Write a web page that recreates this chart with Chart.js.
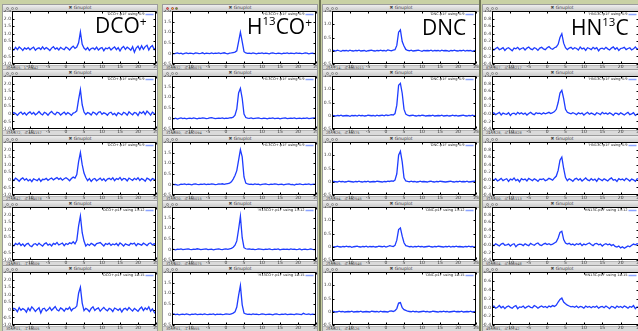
<!DOCTYPE html>
<html>
<head>
<meta charset="utf-8">
<script src="https://cdn.jsdelivr.net/npm/chart.js@4.4.1/dist/chart.umd.min.js"></script>
<style>
html, body { margin: 0; padding: 0; }
body { width: 638px; height: 331px; overflow: hidden; position: relative; background: #c9d1a5; font-family: "DejaVu Sans", sans-serif; }
.win { position: absolute; background: #fff; border: 1px solid #9c9c9c; box-sizing: border-box; overflow: hidden; }
.bar { position: absolute; left: 0; right: 0; top: 0; height: 6px; background: linear-gradient(#eeeeee, #cbcbcb); border-bottom: 1px solid #a6a6a6; font-size: 4.5px; line-height: 6px; text-align: center; color: #444; }
.dot { position: absolute; top: 1.5px; width: 3px; height: 3px; border-radius: 50%; background: #d6d6d6; border: 0.5px solid #8a8a8a; box-sizing: border-box; }
.status { position: absolute; left: 0; right: 0; bottom: 0; height: 4px; background: #dadada; border-top: 1px solid #b8b8b8; font-size: 3.5px; line-height: 4px; color: #444; padding-left: 3px; white-space: pre; }
.strip { position: absolute; top: 0; width: 2px; height: 331px; background: #6f7556; }
canvas { position: absolute; }
.lbl { position: absolute; font-family: "Open Sans", sans-serif; font-size: 21px; line-height: 21px; color: #000; white-space: nowrap; z-index: 5; }
.lbl .sp { font-size: 12px; position: relative; top: -7px; }
.lbl .iso { font-size: 11.5px; position: relative; top: -9px; }
</style>
</head>
<body>
<script>
// velocity axis (km/s), shared by every spectrum
const velocity = [
  -15, -14.5, -14, -13.5, -13, -12.5, -12, -11.5, -11,  -10.5, -10, -9.5, -9, -8.5, -8, -7.5, -7, -6.5,  -6, -5.5, -5, -4.5, -4, -3.5, -3, -2.5, -2,
  -1.5, -1, -0.5, 0, 0.5, 1, 1.5, 2, 2.5,  3, 3.5, 4, 4.5, 5, 5.5, 6, 6.5, 7,  7.5, 8, 8.5, 9, 9.5, 10, 10.5, 11, 11.5,
  12, 12.5, 13, 13.5, 14, 14.5, 15, 15.5, 16,  16.5, 17, 17.5, 18, 18.5, 19, 19.5, 20, 20.5,  21, 21.5, 22, 22.5, 23, 23.5, 24, 24.5, 25
];

// DCO+
const dco1 = [
  0.02, -0.08, 0.10, -0.05, 0.12, 0.03, -0.10, 0.06, -0.02,  0.08, -0.06, 0.04, 0.11, -0.09, 0.02, 0.07, -0.04, 0.13,  -0.03, 0.09, 0.00, -0.11, 0.05, 0.14, -0.02, 0.06, -0.07,
  0.10, 0.01, -0.05, 0.12, 0.04, -0.08, 0.07, 0.18, 0.03,  0.12, 0.40, 1.12, 0.30, 0.05, -0.06, 0.08, -0.10, 0.02,  0.06, -0.04, 0.11, -0.08, 0.03, 0.09, -0.12, 0.05, 0.00,
  0.10, -0.07, 0.04, 0.13, -0.05, 0.08, -0.14, 0.06, 0.16,  -0.04, 0.11, 0.02, -0.09, 0.14, -0.22, 0.05, 0.18, -0.06,  0.20, -0.03, 0.15, 0.24, -0.08, 0.12, 0.22, -0.05, 0.10
];
const dco2 = [
  -0.05, 0.08, 0.02, -0.10, 0.04, 0.12, -0.03, 0.07, -0.08,  0.05, 0.13, -0.02, 0.09, -0.06, 0.03, 0.15, 0.01, -0.07,  0.10, 0.04, -0.09, 0.06, 0.16, 0.02, -0.05, 0.11, 0.07,
  -0.08, 0.03, 0.12, -0.04, 0.08, 0.01, -0.10, 0.05, 0.09,  0.20, 0.95, 1.60, 0.60, 0.12, -0.04, 0.09, 0.03, -0.08,  0.12, 0.05, -0.06, 0.10, 0.14, -0.03, 0.07, 0.02, -0.09,
  0.06, 0.11, -0.05, 0.03, -0.12, 0.08, 0.01, -0.07, 0.10,  0.04, -0.09, 0.13, 0.02, -0.06, 0.09, 0.05, -0.11, 0.12,  0.03, 0.15, -0.04, 0.18, 0.06, -0.08, 0.11, 0.02, -0.05
];
const dco3 = [
  0.06, -0.04, 0.11, 0.02, -0.09, 0.05, 0.13, -0.02, 0.08,  -0.07, 0.03, -0.12, 0.07, 0.01, -0.05, 0.09, -0.10, 0.04,  0.02, 0.10, -0.03, 0.06, 0.12, 0.00, 0.08, 0.15, 0.03,
  0.11, -0.02, 0.07, 0.14, 0.05, -0.06, 0.09, 0.18, 0.12,  0.35, 1.20, 1.80, 1.00, 0.45, 0.15, -0.05, 0.08, -0.10,  0.04, 0.09, -0.06, 0.02, 0.11, -0.03, 0.07, -0.08, 0.05,
  0.10, 0.01, 0.13, -0.05, 0.08, 0.03, 0.16, -0.02, 0.09,  0.06, -0.07, 0.12, 0.04, -0.03, 0.10, 0.01, 0.14, -0.04,  0.08, 0.02, -0.09, 0.11, 0.05, -0.06, 0.09, 0.03, -0.02
];
const dco4 = [
  0.03, -0.07, 0.09, 0.01, 0.12, -0.04, 0.06, -0.09, 0.05,  0.10, -0.06, -0.12, 0.04, 0.08, -0.03, 0.11, 0.00, -0.08,  0.07, 0.13, -0.02, 0.05, -0.07, 0.10, 0.03, 0.16, -0.01,
  0.06, 0.12, -0.05, 0.09, 0.02, 0.14, 0.08, 0.20, 0.06,  0.30, 1.25, 1.90, 0.80, 0.25, -0.08, 0.05, -0.04, 0.10,  0.03, -0.06, 0.08, 0.12, 0.15, 0.04, -0.07, 0.09, 0.02,
  0.11, -0.03, 0.06, 0.00, 0.09, -0.05, 0.13, 0.04, -0.08,  0.07, 0.01, -0.04, 0.10, 0.05, 0.12, -0.06, 0.08, 0.03,  -0.02, 0.11, 0.04, -0.05, 0.09, 0.13, 0.00, 0.07, 0.05
];
const dco5 = [
  -0.06, 0.10, 0.04, -0.12, 0.15, -0.03, 0.08, 0.01, -0.15,  0.12, -0.05, 0.20, 0.07, -0.10, 0.03, 0.14, -0.20, 0.06,  0.11, -0.08, 0.02, 0.16, -0.04, 0.09, 0.22, 0.01, -0.07,
  0.13, 0.05, -0.09, 0.10, 0.03, 0.18, -0.06, 0.08, 0.12,  0.25, 1.10, 1.50, 0.45, -0.05, 0.10, 0.02, -0.12, 0.09,  0.20, -0.04, 0.07, 0.13, -0.09, 0.05, 0.16, 0.02, -0.06,
  0.10, 0.04, -0.11, 0.12, 0.06, -0.03, 0.08, -0.14, 0.05,  0.11, -0.02, 0.15, 0.03, -0.08, 0.09, 0.01, -0.10, 0.07,  0.18, -0.05, 0.12, 0.02, 0.20, -0.09, 0.06, -0.15, -0.30
];

// H13CO+
const h13co1 = [
  0.01, -0.02, 0.00, 0.02, -0.01, 0.01, -0.03, 0.00, 0.02,  -0.01, 0.01, 0.00, -0.02, 0.02, 0.01, -0.01, 0.00, 0.03,  -0.02, 0.01, 0.00, -0.01, 0.02, -0.01, 0.01, 0.00, 0.02,
  -0.01, 0.01, 0.03, 0.00, -0.02, 0.01, 0.02, 0.04, 0.06,  0.12, 0.55, 1.00, 0.55, 0.08, 0.02, 0.00, 0.01, -0.01,  0.02, 0.00, -0.02, 0.01, 0.00, 0.02, -0.01, 0.01, 0.00,
  -0.02, 0.01, 0.02, 0.00, -0.01, 0.01, 0.00, -0.02, 0.01,  0.00, 0.02, -0.01, 0.01, 0.00, -0.01, 0.02, 0.00, 0.01,  -0.01, 0.00, 0.02, 0.01, -0.02, 0.00, 0.01, -0.01, 0.00
];
const h13co2 = [
  0.00, -0.02, 0.01, -0.03, 0.00, 0.02, -0.01, 0.01, -0.02,  0.00, 0.01, -0.01, 0.02, 0.00, -0.02, 0.01, 0.00, 0.02,  0.01, -0.01, 0.00, 0.02, 0.04, 0.01, -0.01, 0.00, 0.01,
  0.00, 0.02, -0.01, 0.01, 0.00, 0.02, 0.03, 0.06, 0.15,  0.45, 1.20, 1.42, 0.95, 0.20, 0.04, 0.01, 0.00, 0.02,  -0.01, 0.00, 0.01, 0.02, 0.00, -0.01, 0.01, 0.00, -0.02,
  0.01, 0.00, 0.02, -0.01, 0.00, 0.01, -0.02, 0.00, 0.01,  0.02, -0.01, 0.00, 0.01, 0.00, 0.02, -0.01, 0.00, 0.01,  -0.01, 0.01, 0.00, 0.02, -0.01, 0.00, 0.01, 0.02, 0.00
];
const h13co3 = [
  0.02, -0.01, 0.00, -0.03, -0.02, 0.01, 0.00, 0.02, -0.01,  0.01, 0.00, -0.02, 0.01, 0.02, 0.00, -0.01, 0.01, 0.00,  0.02, -0.01, 0.01, 0.00, 0.02, 0.01, -0.01, 0.00, 0.02,
  0.01, 0.03, 0.00, 0.02, 0.04, 0.06, 0.12, 0.25, 0.42,  0.65, 1.15, 1.64, 1.30, 0.35, 0.06, 0.02, 0.00, 0.01,  -0.01, 0.02, 0.00, 0.01, -0.02, 0.00, 0.01, 0.02, 0.00,
  -0.01, 0.01, 0.00, 0.02, 0.01, -0.01, 0.00, 0.01, -0.02,  0.00, 0.01, 0.02, -0.01, 0.00, -0.03, 0.01, 0.00, 0.02,  0.00, -0.01, 0.01, 0.00, 0.02, -0.01, 0.00, 0.01, -0.01
];
const h13co4 = [
  0.01, 0.00, -0.02, 0.01, 0.00, 0.02, -0.01, 0.00, 0.01,  0.02, 0.00, -0.01, 0.01, 0.00, 0.03, 0.01, -0.01, 0.00,  0.01, 0.02, -0.01, 0.00, 0.01, -0.02, 0.00, 0.01, 0.02,
  0.00, -0.01, 0.01, 0.02, 0.00, 0.03, 0.05, 0.10, 0.20,  0.40, 0.95, 1.56, 0.55, 0.08, 0.03, 0.01, 0.02, 0.00,  0.01, -0.01, 0.00, 0.02, 0.01, 0.00, -0.01, 0.01, 0.00,
  0.02, 0.00, -0.01, 0.01, 0.00, 0.02, -0.02, 0.00, 0.01,  0.00, 0.01, -0.01, 0.02, 0.00, 0.01, -0.01, 0.00, 0.02,  -0.02, 0.00, 0.01, -0.01, 0.00, 0.02, 0.00, -0.01, 0.01
];
const h13co5 = [
  0.00, 0.02, -0.01, 0.01, -0.02, 0.00, 0.01, -0.01, 0.02,  0.00, -0.02, 0.01, 0.00, 0.02, -0.01, 0.00, 0.01, -0.01,  0.02, 0.00, -0.01, 0.01, 0.00, 0.02, -0.02, 0.01, 0.00,
  0.01, -0.01, 0.00, 0.02, 0.01, 0.00, 0.03, 0.06, 0.12,  0.35, 0.90, 1.36, 0.45, 0.06, 0.02, 0.00, 0.01, -0.01,  0.02, 0.00, 0.01, -0.01, 0.00, 0.02, 0.01, -0.01, 0.00,
  0.01, 0.00, -0.02, 0.01, 0.02, 0.00, -0.01, 0.01, 0.00,  0.02, -0.01, 0.00, 0.01, 0.00, -0.01, 0.02, 0.01, 0.00,  -0.01, 0.05, 0.01, 0.00, 0.02, -0.01, 0.01, 0.00, -0.01
];

// DNC
const dnc1 = [
  0.00, 0.01, -0.01, 0.02, 0.00, -0.02, 0.01, 0.00, 0.01,  -0.01, 0.02, 0.00, -0.01, 0.01, 0.00, 0.02, -0.01, 0.00,  0.01, -0.02, 0.00, 0.01, 0.02, 0.00, -0.01, 0.01, 0.00,
  0.02, 0.00, 0.01, -0.01, 0.03, 0.01, 0.00, 0.02, 0.04,  0.20, 0.70, 0.79, 0.35, 0.18, 0.05, 0.01, 0.00, 0.02,  -0.01, 0.00, 0.01, 0.02, 0.00, -0.02, 0.01, 0.00, 0.01,
  0.00, 0.02, -0.01, 0.01, 0.00, 0.01, -0.01, 0.02, 0.00,  0.01, 0.00, -0.02, 0.01, 0.00, 0.02, 0.00, -0.01, 0.01,  0.00, 0.02, -0.01, 0.01, 0.00, 0.01, -0.02, 0.00, 0.01
];
const dnc2 = [
  0.01, 0.00, -0.01, 0.01, 0.00, 0.02, -0.01, 0.00, 0.01,  0.00, -0.02, 0.01, 0.00, 0.01, -0.01, 0.02, 0.00, 0.01,  -0.01, 0.00, 0.02, 0.01, 0.00, 0.01, -0.01, 0.02, 0.00,
  0.01, 0.02, 0.00, 0.03, 0.01, 0.02, 0.04, 0.03, 0.08,  0.40, 1.15, 1.22, 0.85, 0.25, 0.06, 0.02, 0.00, 0.01,  0.02, 0.00, -0.01, 0.01, 0.00, 0.02, 0.01, -0.01, 0.00,
  0.01, 0.00, 0.02, -0.01, 0.00, 0.01, 0.00, 0.02, -0.01,  0.00, 0.01, -0.01, 0.00, 0.02, 0.00, 0.01, -0.01, 0.00,  0.01, 0.02, 0.00, -0.01, 0.01, 0.00, 0.02, 0.00, -0.01
];
const dnc3 = [
  0.00, 0.01, 0.00, -0.01, 0.02, 0.00, 0.01, -0.01, 0.00,  0.02, 0.01, 0.00, -0.01, 0.01, 0.00, 0.02, 0.00, -0.01,  0.01, 0.00, 0.02, -0.01, 0.00, 0.01, 0.00, 0.02, 0.01,
  0.00, -0.01, 0.01, 0.00, 0.02, 0.01, 0.03, 0.02, 0.06,  0.30, 1.00, 1.15, 0.75, 0.15, 0.03, 0.01, 0.00, 0.02,  0.00, 0.01, -0.01, 0.00, 0.02, 0.00, 0.01, 0.00, -0.01,
  0.01, 0.02, 0.00, -0.01, 0.01, 0.00, 0.02, 0.01, 0.00,  -0.01, 0.00, 0.01, 0.02, 0.00, -0.01, 0.01, 0.00, 0.02,  0.00, 0.01, 0.00, 0.02, -0.01, 0.00, 0.01, 0.02, 0.00
];
const dnc4 = [
  0.01, -0.01, 0.00, 0.02, 0.00, -0.01, 0.01, 0.00, 0.02,  0.00, 0.01, -0.02, 0.00, 0.01, 0.02, 0.00, -0.01, 0.01,  0.00, 0.02, -0.01, 0.01, 0.00, 0.01, -0.01, 0.00, 0.02,
  0.01, 0.00, 0.02, -0.01, 0.01, 0.04, 0.02, 0.01, 0.05,  0.25, 0.65, 0.71, 0.40, 0.15, 0.04, 0.02, 0.00, 0.01,  -0.01, 0.01, 0.00, 0.02, 0.00, 0.01, -0.01, 0.00, 0.01,
  0.02, 0.00, -0.01, 0.01, 0.00, 0.02, 0.01, 0.00, -0.01,  0.01, 0.00, 0.02, -0.01, 0.01, 0.00, 0.02, 0.00, 0.01,  0.00, -0.01, 0.01, 0.00, 0.02, 0.00, 0.01, -0.01, 0.01
];
const dnc5 = [
  0.00, 0.01, -0.01, 0.00, 0.02, 0.00, 0.01, -0.01, 0.00,  0.01, 0.00, 0.02, -0.01, 0.00, 0.01, 0.00, 0.02, -0.01,  0.00, 0.01, 0.00, -0.01, 0.02, 0.01, 0.00, 0.01, -0.01,
  0.02, 0.00, 0.01, 0.00, -0.01, 0.02, 0.03, 0.01, 0.04,  0.12, 0.33, 0.35, 0.15, 0.08, 0.05, 0.02, 0.01, 0.00,  0.02, 0.00, 0.01, -0.01, 0.00, 0.01, 0.02, 0.00, 0.01,
  -0.01, 0.00, 0.02, 0.01, 0.00, -0.01, 0.01, 0.00, 0.02,  0.00, 0.01, -0.01, 0.00, 0.01, 0.02, 0.00, 0.01, 0.00,  0.02, -0.01, 0.00, 0.01, 0.00, 0.02, -0.01, 0.00, 0.01
];

// HN13C
const hn13c1 = [
  0.02, -0.03, 0.01, 0.04, -0.02, 0.00, 0.03, -0.04, 0.01,  0.03, -0.01, -0.05, 0.02, 0.00, 0.04, -0.02, 0.01, 0.03,  -0.03, 0.02, 0.05, 0.00, -0.02, 0.03, 0.01, -0.04, 0.02,
  0.04, 0.00, -0.02, 0.03, 0.06, 0.01, -0.01, 0.03, 0.05,  0.12, 0.30, 0.40, 0.15, 0.03, -0.02, 0.02, 0.04, -0.01,  0.03, 0.01, -0.03, 0.05, 0.00, 0.02, -0.04, 0.03, 0.01,
  -0.02, 0.04, 0.00, 0.03, -0.05, 0.01, 0.02, -0.01, 0.04,  0.00, -0.03, 0.02, 0.05, -0.01, 0.03, -0.04, 0.01, 0.02,  0.04, -0.02, 0.01, 0.03, -0.03, 0.00, 0.05, -0.01, 0.02
];
const hn13c2 = [
  0.00, 0.03, -0.02, 0.01, 0.04, -0.03, 0.02, 0.00, -0.01,  0.03, -0.04, 0.01, 0.02, -0.02, 0.04, 0.00, 0.03, -0.01,  0.02, -0.03, 0.01, 0.04, 0.00, -0.02, 0.03, 0.01, 0.02,
  -0.01, 0.03, 0.00, 0.02, 0.04, 0.01, 0.03, 0.06, 0.12,  0.30, 0.55, 0.62, 0.40, 0.12, 0.04, 0.02, 0.00, 0.03,  0.01, -0.02, 0.03, 0.00, 0.02, -0.03, 0.01, 0.04, -0.01,
  0.02, 0.00, -0.03, 0.03, 0.01, -0.02, 0.04, 0.00, 0.02,  -0.01, 0.03, 0.00, -0.04, 0.02, 0.01, -0.02, 0.03, 0.00,  -0.03, 0.01, 0.04, -0.02, 0.00, 0.03, -0.04, -0.01, 0.02
];
const hn13c3 = [
  0.02, -0.01, 0.03, -0.03, 0.00, 0.04, -0.02, 0.01, 0.03,  -0.04, 0.02, 0.00, 0.05, -0.02, 0.01, -0.05, 0.03, 0.00,  0.02, -0.03, 0.04, 0.01, -0.02, 0.03, 0.00, -0.04, 0.02,
  0.01, 0.03, -0.02, 0.00, 0.04, 0.02, -0.01, 0.05, 0.10,  0.25, 0.52, 0.60, 0.30, 0.06, -0.02, 0.03, 0.00, -0.04,  0.02, 0.04, -0.01, 0.03, -0.03, 0.01, 0.05, 0.00, -0.02,
  0.03, -0.01, 0.02, -0.04, 0.04, 0.01, -0.02, 0.03, 0.00,  -0.03, 0.02, 0.05, -0.01, 0.01, -0.04, 0.03, 0.00, 0.02,  -0.02, 0.04, 0.01, -0.03, 0.02, 0.00, -0.04, 0.03, 0.01
];
const hn13c4 = [
  0.01, -0.02, 0.03, 0.00, -0.03, 0.02, 0.04, -0.01, 0.00,  0.02, -0.03, 0.01, 0.03, -0.05, 0.00, 0.02, 0.01, -0.02,  0.03, 0.00, -0.02, 0.04, 0.01, -0.01, 0.03, 0.05, 0.00,
  -0.02, 0.02, 0.04, 0.01, 0.03, 0.00, 0.02, 0.05, 0.08,  0.18, 0.33, 0.36, 0.14, 0.05, 0.02, 0.04, 0.00, 0.02,  -0.01, 0.03, 0.01, 0.04, -0.02, 0.02, 0.00, 0.03, 0.05,
  0.01, -0.02, 0.03, 0.04, 0.00, 0.02, -0.03, 0.01, 0.03,  0.00, 0.02, -0.02, 0.01, -0.04, -0.06, -0.03, -0.08, -0.05,  -0.09, -0.06, -0.03, -0.05, -0.01, 0.02, 0.00, 0.03, 0.01
];
const hn13c5 = [
  0.01, 0.03, -0.02, 0.00, 0.04, -0.01, 0.02, -0.03, 0.01,  0.03, 0.00, -0.02, 0.02, 0.04, -0.03, 0.01, 0.00, 0.03,  -0.02, 0.01, 0.03, 0.00, -0.01, 0.04, 0.02, -0.02, 0.01,
  0.03, 0.00, 0.02, -0.01, 0.03, 0.01, 0.04, 0.02, 0.05,  0.12, 0.18, 0.21, 0.12, 0.08, 0.05, 0.03, 0.01, 0.02,  0.00, 0.03, -0.01, 0.02, 0.01, -0.02, 0.03, 0.00, 0.02,
  -0.01, 0.02, 0.00, 0.03, -0.02, 0.01, 0.02, -0.01, 0.03,  0.00, -0.03, 0.02, 0.01, -0.02, 0.03, 0.00, 0.02, -0.01,  0.03, 0.01, -0.02, 0.02, 0.00, 0.04, -0.03, 0.01, 0.00
];

const spectra = [
  [dco1, dco2, dco3, dco4, dco5],
  [h13co1, h13co2, h13co3, h13co4, h13co5],
  [dnc1, dnc2, dnc3, dnc4, dnc5],
  [hn13c1, hn13c2, hn13c3, hn13c4, hn13c5]
];

// axis ranges per column (and per row where gnuplot autoscaled differently)
const yMin = [[-1, -1, -1, -1, -1], [-0.5, -0.5, -0.5, -0.5, -0.5], [-0.5, -0.5, -0.5, -0.5, -0.5], [-0.4, -0.4, -0.4, -0.4, -0.4]];
const yMax = [[2.5, 2.5, 2.5, 2.5, 2.5], [2, 2, 2, 2, 2], [1.5, 1.5, 1.5, 1.5, 1.5], [1, 1, 1, 1, 0.8]];
const yStep = [0.5, 0.5, 0.5, 0.2];
const xMin = -15, xMax = 25, xStep = 5;

// key and status texts
const keyFiles = ["'DCO+.p1f'", "'H13CO+.p1f'", "'DNC.p1f'", "'HN13C.p1f'"];
const keyColumns = ['5:9', '5:9', '5:9', '13:12', '14:15'];
const statusText = [
  ['30.9605,  1.13442', '33.2672,  -0.404157', '27.0842,  -0.284078', '24.4381,  -1.16009', '30.0701,  -1.10005'],
  ['30.8932,  -0.400075', '31.4880,  -0.452094', '31.3320,  -0.356015', '31.2402,  -0.600075', '30.3761,  -1.11955'],
  ['25.7714,  -0.0963011', '26.7626,  -0.39375', '25.1594,  -0.392545', '25.8905,  -0.390546', '26.0021,  -0.41126'],
  ['8.67807,  -0.008217', '24.1128,  -0.186828', '31.1100,  -0.141113', '50.6004,  -0.000948', '49.3381,  -0.37742']
];

// window geometry
const colLeft = [2, 162, 322, 482];
const colWidth = [156, 156, 158, 160];
const frameWidth = [144, 144, 144, 147];
const frameTop = [11, 76, 142, 207, 272];
const LINE = 'rgb(30, 60, 255)';
const TICK_FONT = '"DejaVu Sans", sans-serif';

// gnuplot style frame: box, inward mirrored ticks and the key
const gnuFrame = {
  id: 'gnuFrame',
  afterDraw(chart, args, opts) {
    const { ctx, chartArea: a, scales: { x, y } } = chart;
    const l = Math.round(a.left) + 0.5, r = Math.round(a.right) - 0.5;
    const t = Math.round(a.top) + 0.5, b = Math.round(a.bottom) - 0.5;
    ctx.save();
    ctx.strokeStyle = '#000';
    ctx.lineWidth = 1;
    ctx.strokeRect(l, t, r - l, b - t);
    ctx.beginPath();
    x.ticks.forEach(tk => {
      const px = Math.round(x.getPixelForValue(tk.value)) + 0.5;
      ctx.moveTo(px, b); ctx.lineTo(px, b - 2);
      ctx.moveTo(px, t); ctx.lineTo(px, t + 2);
    });
    y.ticks.forEach(tk => {
      const py = Math.round(y.getPixelForValue(tk.value)) + 0.5;
      ctx.moveTo(l, py); ctx.lineTo(l + 2, py);
      ctx.moveTo(r, py); ctx.lineTo(r - 2, py);
    });
    ctx.stroke();
    // key
    ctx.font = '3.6px ' + TICK_FONT;
    ctx.fillStyle = '#222';
    ctx.textAlign = 'right';
    ctx.textBaseline = 'middle';
    ctx.fillText(opts.key, r - 11, t + 3);
    ctx.strokeStyle = '#8aa2ff';
    ctx.lineWidth = 1.5;
    ctx.beginPath();
    ctx.moveTo(r - 10, t + 3);
    ctx.lineTo(r - 2, t + 3);
    ctx.stroke();
    ctx.restore();
  }
};

function el(tag, cls, parent) {
  const e = document.createElement(tag);
  if (cls) e.className = cls;
  parent.appendChild(e);
  return e;
}

for (let c = 0; c < 4; c++) {
  for (let r = 0; r < 5; r++) {
    const F = frameTop[r];
    const win = el('div', 'win', document.body);
    win.style.left = colLeft[c] + 'px';
    win.style.top = (F - 7) + 'px';
    win.style.width = colWidth[c] + 'px';
    win.style.height = '67px';

    const bar = el('div', 'bar', win);
    bar.textContent = '\u2716 Gnuplot';
    const active = (c === 1 && r === 0);
    ['#ff5f57', '#febc2e', '#28c840'].forEach((col, i) => {
      const d = el('div', 'dot', bar);
      d.style.left = (3 + i * 4.5) + 'px';
      if (active) { d.style.background = col; d.style.borderColor = '#a05050'; }
    });
    const st = el('div', 'status', win);
    st.textContent = statusText[c][r];

    const cv = el('canvas', '', document.body);
    const w = colWidth[c] - 2, h = 61;
    cv.width = w; cv.height = h;
    cv.style.width = w + 'px'; cv.style.height = h + 'px';
    cv.style.left = (colLeft[c] + 1) + 'px';
    cv.style.top = (F - 1) + 'px';

    const series = spectra[c][r];
    new Chart(cv, {
      type: 'line',
      data: {
        datasets: [{
          data: velocity.map((v, i) => ({ x: v, y: series[i] })),
          borderColor: LINE,
          borderWidth: 1.3,
          pointRadius: 0,
          tension: 0
        }]
      },
      options: {
        responsive: false,
        animation: false,
        events: [],
        layout: { padding: { top: 1, left: 0, bottom: 0, right: w - 9 - frameWidth[c] } },
        plugins: {
          legend: { display: false },
          tooltip: { enabled: false },
          gnuFrame: { key: keyFiles[c] + ' using ' + keyColumns[r] }
        },
        scales: {
          x: {
            type: 'linear',
            min: xMin, max: xMax,
            ticks: { stepSize: xStep, autoSkip: false, maxRotation: 0, padding: 0.5, color: '#333', font: { size: 4.5, family: TICK_FONT } },
            grid: { display: false, drawTicks: false },
            border: { display: false },
            afterFit: s => { s.height = 7; s.paddingLeft = 0; s.paddingRight = 0; }
          },
          y: {
            min: yMin[c][r], max: yMax[c][r],
            ticks: { stepSize: yStep[c], autoSkip: false, padding: 1, color: '#333', font: { size: 4.5, family: TICK_FONT } },
            grid: { display: false, drawTicks: false },
            border: { display: false },
            afterFit: s => { s.width = 9; s.paddingTop = 0; s.paddingBottom = 0; }
          }
        }
      },
      plugins: [gnuFrame]
    });
  }
}

// dark window edges between the right-hand columns
[319, 479].forEach(x => { const s = el('div', 'strip', document.body); s.style.left = x + 'px'; });

// molecule labels
const labels = [
  { html: 'DCO<span class="sp">+</span>', left: 95, top: 15 },
  { html: 'H<span class="iso">13</span>CO<span class="sp">+</span>', left: 247, top: 16 },
  { html: 'DNC', left: 422, top: 17 },
  { html: 'HN<span class="iso">13</span>C', left: 571, top: 17 }
];
labels.forEach(lb => {
  const d = el('div', 'lbl', document.body);
  d.innerHTML = lb.html;
  d.style.left = lb.left + 'px';
  d.style.top = lb.top + 'px';
});
</script>
</body>
</html>
